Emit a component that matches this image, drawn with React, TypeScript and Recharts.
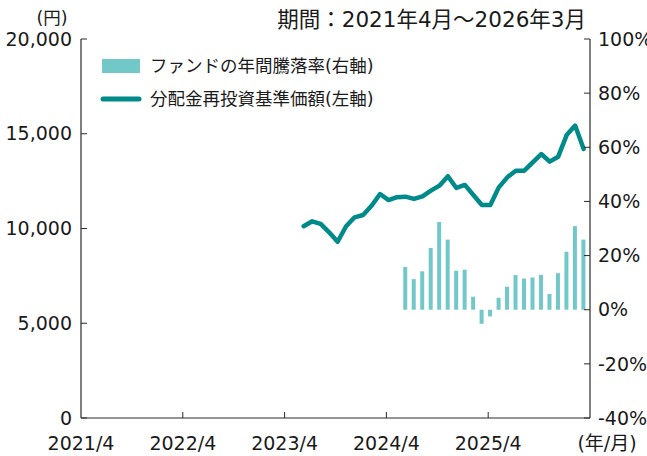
import React from "react";
import { ComposedChart, Bar, Line, XAxis, YAxis, Legend } from "recharts";

// month index 0 = 2021/4
const navStartMonth = 26; // 2023/6
const navValues = [
  10120, 10380, 10240, 9800, 9300, 10120, 10590, 10710, 11200, 11820, 11500,
  11650, 11680, 11560, 11700, 12000, 12260, 12760, 12140, 12300, 11770, 11240,
  11240, 12170, 12700, 13050, 13050, 13490, 13930, 13530, 13790, 14930, 15430,
  14200,
];
const retStartMonth = 38; // 2024/6
const retValues = [
  15.8, 11.3, 14.2, 22.8, 32.4, 25.9, 14.4, 14.8, 4.8, -5.2, -2.5, 4.4, 8.5,
  12.8, 11.5, 11.9, 12.9, 5.8, 13.5, 21.4, 30.9, 25.9,
];
const xTicks = [0, 12, 24, 36, 48, 60];
const xTickLabels = ["2021/4", "2022/4", "2023/4", "2024/4", "2025/4", "(年/月)"];
const leftTicks = [0, 5000, 10000, 15000, 20000];
const rightTicks = [-40, -20, 0, 20, 40, 60, 80, 100];
const seriesNames = ["ファンドの年間騰落率(右軸)", "分配金再投資基準価額(左軸)"];
const titleText = "期間：2021年4月～2026年3月";
const leftUnit = "(円)";
// observations are dated a little into each month
const dayInMonth = 0.25;

const data: { m: number; nav: number | null; ret: number | null }[] = [];
for (let m = navStartMonth; m < navStartMonth + navValues.length; m++) {
  const ri = m - retStartMonth;
  data.push({
    m: m + dayInMonth,
    nav: navValues[m - navStartMonth],
    ret: ri >= 0 && ri < retValues.length ? retValues[ri] : null,
  });
}

const FONT = "'DejaVu Sans', 'Noto Sans CJK JP', sans-serif";
const TEXT = "#1a1a1a";
const AXIS = "#2a2a2a";
const BAR = "#72c7c9";
const LINE = "#008a89";

const LeftTick = (props: any) => {
  const { x, y, payload } = props;
  return (
    <g>
      <line x1={x} x2={x + 6} y1={y} y2={y} stroke={AXIS} strokeWidth={1} />
      <text x={x - 9} y={y} dy="0.355em" textAnchor="end" fontSize={19} fontFamily={FONT} fill={TEXT}>
        {Number(payload.value).toLocaleString("en-US")}
      </text>
    </g>
  );
};

const RightTick = (props: any) => {
  const { x, y, payload } = props;
  return (
    <g>
      <line x1={x - 6} x2={x} y1={y} y2={y} stroke={AXIS} strokeWidth={1} />
      <text x={x + 8} y={y} dy="0.355em" textAnchor="start" fontSize={19} fontFamily={FONT} fill={TEXT}>
        {payload.value + "%"}
      </text>
    </g>
  );
};

const BottomTick = (props: any) => {
  const { x, y, payload } = props;
  const idx = xTicks.indexOf(payload.value);
  const label = xTickLabels[idx] ?? "";
  const last = idx === xTicks.length - 1;
  return (
    <g>
      {idx > 0 && !last && <line x1={x} x2={x} y1={y - 6} y2={y} stroke={AXIS} strokeWidth={1} />}
      <text x={last ? x + 17 : x} y={y + 32} textAnchor="middle" fontSize={19} fontFamily={FONT} fill={TEXT}>
        {label}
      </text>
    </g>
  );
};

const LegendContent = () => (
  <svg width={320} height={64} style={{ display: "block" }}>
    <rect x={2} y={7} width={38} height={14} fill={BAR} />
    <text x={50} y={14} dy="0.355em" fontSize={17.5} fontFamily={FONT} fill={TEXT}>
      {seriesNames[0]}
    </text>
    <line x1={3} x2={39} y1={47} y2={47} stroke={LINE} strokeWidth={5} strokeLinecap="round" />
    <text x={50} y={47} dy="0.355em" fontSize={17.5} fontFamily={FONT} fill={TEXT}>
      {seriesNames[1]}
    </text>
  </svg>
);

export default function App() {
  return (
    <div style={{ position: "absolute", left: 0, top: 0, width: 647, height: 456, background: "#fff" }}>
      <ComposedChart width={647} height={456} data={data} margin={{ top: 39, right: 0, bottom: 0, left: 0 }}>
        <XAxis
          dataKey="m"
          type="number"
          domain={[0, 60]}
          ticks={xTicks}
          interval={0}
          height={38}
          tickSize={0}
          tickMargin={0}
          tick={<BottomTick />}
          axisLine={{ stroke: AXIS, strokeWidth: 1.2 }}
          allowDataOverflow
        />
        <YAxis
          yAxisId="left"
          orientation="left"
          domain={[0, 20000]}
          ticks={leftTicks}
          interval={0}
          width={81}
          tickSize={0}
          tickMargin={0}
          tick={<LeftTick />}
          axisLine={{ stroke: AXIS, strokeWidth: 1.2 }}
          allowDataOverflow
        />
        <YAxis
          yAxisId="right"
          orientation="right"
          domain={[-40, 100]}
          ticks={rightTicks}
          interval={0}
          width={57}
          tickSize={0}
          tickMargin={0}
          tick={<RightTick />}
          axisLine={{ stroke: AXIS, strokeWidth: 1.2 }}
          allowDataOverflow
        />
        <Legend
          layout="horizontal"
          verticalAlign="middle"
          align="center"
          content={<LegendContent />}
          wrapperStyle={{ left: 100, top: 52, width: 320, height: 64 }}
        />
        <Bar yAxisId="right" dataKey="ret" name={seriesNames[0]} fill={BAR} barSize={4} isAnimationActive={false} />
        <Line
          yAxisId="left"
          dataKey="nav"
          name={seriesNames[1]}
          stroke={LINE}
          strokeWidth={4.5}
          strokeLinejoin="round"
          strokeLinecap="round"
          dot={false}
          activeDot={false}
          isAnimationActive={false}
        />
      </ComposedChart>
      <svg width={647} height={40} style={{ position: "absolute", left: 0, top: 0, pointerEvents: "none" }}>
        <text x={586} y={27} textAnchor="end" fontSize={21.5} fontFamily={FONT} fill={TEXT}>
          {titleText}
        </text>
        <text x={52} y={24} textAnchor="middle" fontSize={17.5} fontFamily={FONT} fill={TEXT}>
          {leftUnit}
        </text>
      </svg>
    </div>
  );
}
